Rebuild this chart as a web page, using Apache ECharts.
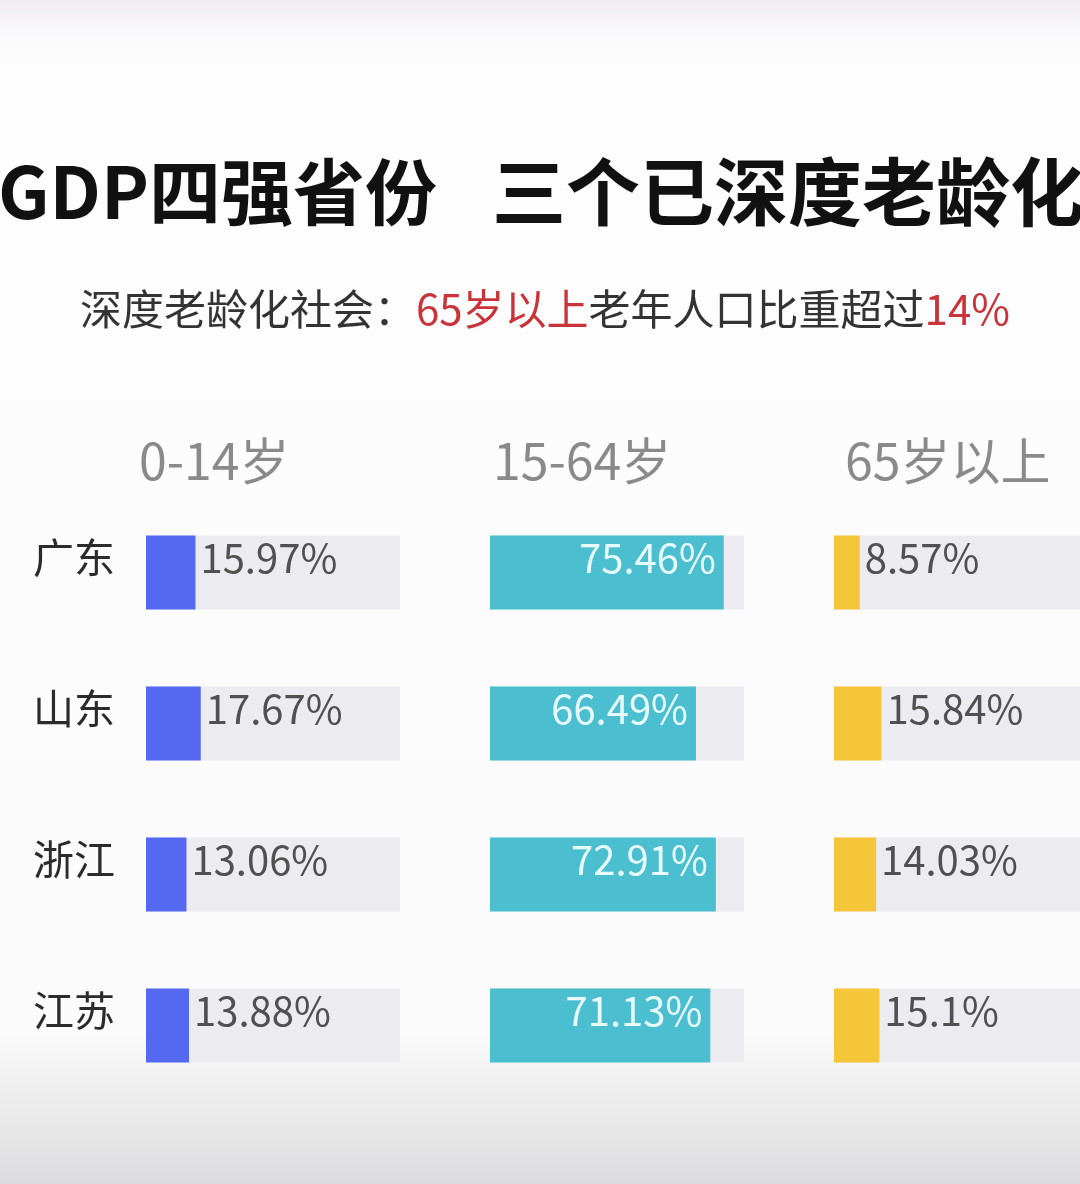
<!DOCTYPE html>
<html>
<head>
<meta charset="utf-8">
<script src="https://cdn.jsdelivr.net/npm/echarts@6/dist/echarts.min.js"></script>
<style>
html,body{margin:0;padding:0;background:#fdfdfd;}
#chart{width:1080px;height:1184px;}
</style>
</head>
<body>
<div id="chart"></div>
<script>
const provinces = ['广东', '山东', '浙江', '江苏'];
const ageGroups = ['0-14岁', '15-64岁', '65岁以上'];
const child = [15.97, 17.67, 13.06, 13.88];
const working = [75.46, 66.49, 72.91, 71.13];
const elderly = [8.57, 15.84, 14.03, 15.1];
const titleLeft = 'GDP四强省份';
const titleRight = '三个已深度老龄化';

const FONT = '"Noto Sans CJK SC", "Noto Sans", sans-serif';
const colors = ['#5468f0', '#4bbfd0', '#f6c63a'];
const trackColor = '#ebebf0';
const gridLefts = [146, 490, 834];
const headerX = [139, 493, 845];
const seriesData = [child, working, elderly];
const AXMAX = 82;

const chart = echarts.init(document.getElementById('chart'));

const grids = gridLefts.map(l => ({ left: l, width: 254, top: 497, height: 604 }));
const xAxes = gridLefts.map((l, i) => ({
  type: 'value', gridIndex: i, min: 0, max: AXMAX, show: false
}));
const yAxes = gridLefts.map((l, i) => ({
  type: 'category', gridIndex: i, data: provinces, inverse: true,
  axisLine: { show: false }, axisTick: { show: false }, splitLine: { show: false },
  axisLabel: i === 0 ? {
    show: true, fontSize: 41, color: '#2b2b2b', fontFamily: FONT, margin: 31,
    verticalAlign: 'bottom', lineHeight: 30
  } : { show: false }
}));

const series = seriesData.map((d, i) => ({
  type: 'bar', xAxisIndex: i, yAxisIndex: i, data: d,
  barWidth: 74,
  showBackground: true,
  backgroundStyle: { color: trackColor },
  itemStyle: { color: colors[i] },
  label: {
    show: true,
    position: i === 1 ? 'insideRight' : 'right',
    distance: i === 1 ? 8 : 5,
    offset: [0, -15],
    fontSize: 40,
    fontFamily: FONT,
    color: i === 1 ? '#e8fcff' : '#505050',
    formatter: p => p.value + '%'
  }
}));

const graphics = [
  {
    type: 'rect', z: -10, silent: true,
    shape: { x: 0, y: 0, width: 1080, height: 1184 },
    style: {
      fill: new echarts.graphic.LinearGradient(0, 0, 0, 1, [
        { offset: 0, color: '#eeecf0' },
        { offset: 0.03, color: '#fbfafc' },
        { offset: 0.06, color: '#fdfdfd' },
        { offset: 0.87, color: '#fbfbfb' },
        { offset: 1, color: '#dcdcde' }
      ])
    }
  },
  {
    type: 'text', left: -2, top: 156,
    style: { text: titleLeft, font: 'bold 72px ' + FONT, fill: '#111' }
  },
  {
    type: 'text', left: 492, top: 155,
    style: { text: titleRight, font: 'bold 74px ' + FONT, fill: '#111' }
  },
  {
    type: 'text', left: 80, top: 288,
    style: {
      text: '{g|深度老龄化社会：}{r|65岁以上}{g|老年人口比重超过}{r|14%}',
      rich: {
        g: { fontSize: 42, fontFamily: FONT, fill: '#333', color: '#333' },
        r: { fontSize: 42, fontFamily: FONT, fill: '#c9343a', color: '#c9343a' }
      }
    }
  }
];
ageGroups.forEach((g, i) => {
  graphics.push({
    type: 'text', left: headerX[i], top: 436,
    style: { text: g, font: '50px ' + FONT, fill: '#8a8a8a' }
  });
});

chart.setOption({
  animation: false,
  backgroundColor: '#fdfdfd',
  grid: grids,
  xAxis: xAxes,
  yAxis: yAxes,
  series: series,
  graphic: graphics
});
</script>
</body>
</html>
